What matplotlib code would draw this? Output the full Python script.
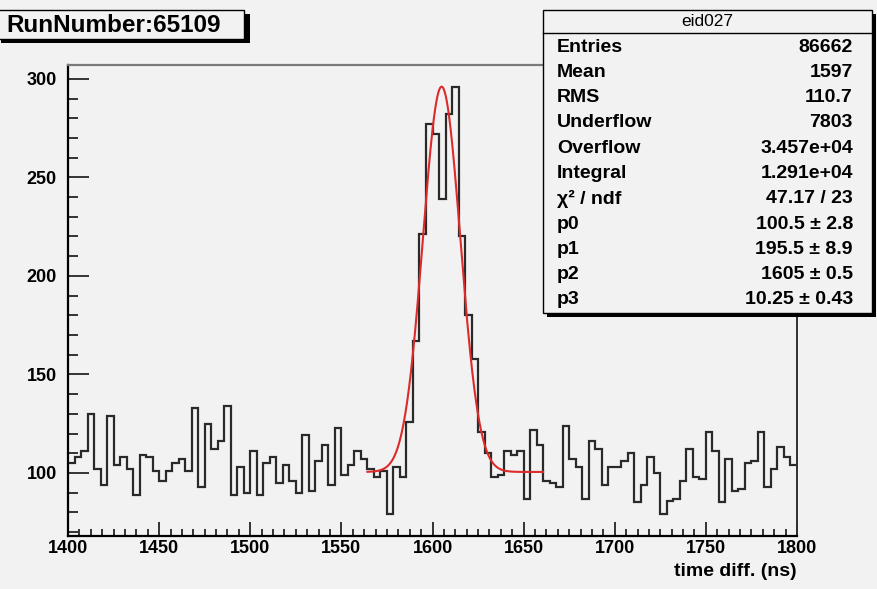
import numpy as np
import matplotlib
matplotlib.use('Agg')
import matplotlib.pyplot as plt
from matplotlib.patches import Rectangle
from matplotlib.lines import Line2D

# bin contents, 112 bins from 1400 to 1800 ns
counts = [105, 108, 111, 130, 102, 94, 129, 104, 108, 102,
          89, 109, 108, 101, 96, 101, 105, 107, 101, 133,
          93, 125, 112, 116, 134, 89, 103, 90, 111, 89,
          105, 108, 95, 104, 96, 90, 119, 91, 106, 114,
          94, 123, 99, 104, 111, 107, 102, 98, 101, 79,
          103, 98, 126, 167, 221, 277, 272, 239, 282, 296,
          220, 180, 158, 121, 110, 98, 99, 111, 109, 111,
          87, 122, 114, 96, 95, 93, 124, 107, 103, 87,
          116, 112, 94, 103, 103, 106, 110, 85, 94, 108,
          100, 79, 86, 87, 96, 112, 98, 97, 121, 111,
          85, 107, 91, 92, 105, 106, 121, 93, 102, 113,
          108, 104]
x_lo, x_hi = 1400, 1800
y_lo, y_hi = 68, 307

# fit pol0 + gaus, parameters as printed in the stats box
p0, p1, p2, p3 = 100.5, 195.5, 1605, 10.25
fit_lo, fit_hi = 1564.3, 1660.7

run_label = 'RunNumber:65109'
hist_name = 'eid027'
stat_labels = ['Entries', 'Mean', 'RMS', 'Underflow', 'Overflow', 'Integral',
               'χ² / ndf', 'p0', 'p1', 'p2', 'p3']
stat_values = ['86662', '1597', '110.7', '7803', '3.457e+04', '1.291e+04',
               '47.17 / 23', '100.5 ± 2.8', '195.5 ± 8.9', '1605 ± 0.5', '10.25 ± 0.43']

plt.rcParams['font.family'] = ['Liberation Sans', 'DejaVu Sans']
plt.rcParams['font.weight'] = 'bold'

W, H = 878, 589
bg = '#f2f2f2'

def fx(px):
    return px / W

def fy(py):
    return 1 - py / H

fig = plt.figure(figsize=(W / 100, H / 100), dpi=100, facecolor=bg)
ax = fig.add_axes([fx(68), fy(536), fx(797) - fx(68), fy(65) - fy(536)], facecolor=bg)

edges = np.linspace(x_lo, x_hi, len(counts) + 1)
ax.stairs(counts, edges, color='#2a2a2a', lw=1.6, baseline=None)
xf = np.linspace(fit_lo, fit_hi, 400)
ax.plot(xf, p0 + p1 * np.exp(-0.5 * ((xf - p2) / p3) ** 2), color='#dd2b2b', lw=1.5)

ax.set_xlim(x_lo, x_hi)
ax.set_ylim(y_lo, y_hi)
ax.set_xticks(np.arange(1400, 1801, 50))
ax.set_xticks(np.arange(1400, 1801, 6.25), minor=True)
ax.set_yticks(np.arange(100, 301, 50))
ax.set_yticks(np.arange(70, 307, 10), minor=True)
ax.tick_params(which='both', direction='in', top=False, right=False, width=1.1, colors='black')
ax.tick_params(axis='x', which='major', length=10, pad=3, labelsize=13)
ax.tick_params(axis='x', which='minor', length=5)
ax.tick_params(axis='y', which='major', length=15, pad=8, labelsize=13)
ax.tick_params(axis='y', which='minor', length=7.5)

ax.spines['left'].set_linewidth(1.6)
ax.spines['bottom'].set_linewidth(1.6)
ax.spines['top'].set_color('#7a7a7a')
ax.spines['top'].set_linewidth(1.6)
ax.spines['right'].set_color('#303030')
ax.spines['right'].set_linewidth(1.4)

fig.text(fx(797), fy(571), 'time diff. (ns)', ha='right', va='center', fontsize=14)

# run number box with shadow
fig.add_artist(Rectangle((fx(1), fy(43)), fx(250) - fx(1), fy(14) - fy(43),
                         transform=fig.transFigure, facecolor='black', edgecolor='none', zorder=2))
fig.add_artist(Rectangle((fx(-3), fy(39)), fx(244) - fx(-3), fy(10) - fy(39),
                         transform=fig.transFigure, facecolor=bg, edgecolor='black', lw=1.0, zorder=3))
fig.text(fx(6), fy(25), run_label, ha='left', va='center', fontsize=17.5, zorder=4)

# stats box with shadow
fig.add_artist(Rectangle((fx(547), fy(317)), fx(876) - fx(547), fy(14) - fy(317),
                         transform=fig.transFigure, facecolor='black', edgecolor='none', zorder=2))
fig.add_artist(Rectangle((fx(543), fy(313)), fx(872) - fx(543), fy(10) - fy(313),
                         transform=fig.transFigure, facecolor=bg, edgecolor='black', lw=1.0, zorder=3))
fig.add_artist(Line2D([fx(543), fx(872)], [fy(33), fy(33)], transform=fig.transFigure,
                      color='black', lw=1.0, zorder=4))
fig.text(fx(707), fy(22), hist_name, ha='center', va='center', fontsize=12.5,
         fontweight='normal', zorder=4)
for i, (lab, val) in enumerate(zip(stat_labels, stat_values)):
    yy = 47 + 25.3 * i
    fig.text(fx(557), fy(yy), lab, ha='left', va='center', fontsize=14, zorder=4)
    fig.text(fx(853), fy(yy), val, ha='right', va='center', fontsize=14, zorder=4)

plt.savefig('out.png', dpi=100, facecolor=bg)
